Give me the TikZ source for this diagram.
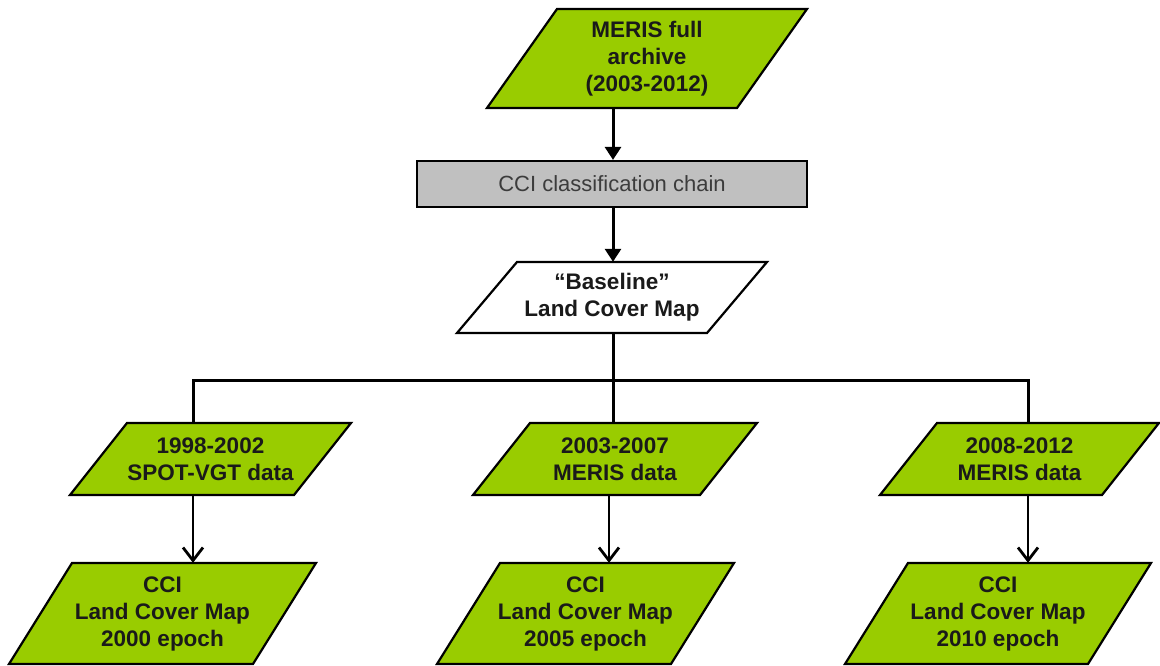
\documentclass[tikz,border=0pt]{standalone}
\usepackage{fontspec}
\setmainfont{Liberation Sans}
\usetikzlibrary{arrows.meta}

\definecolor{leaf}{HTML}{99CC00}
\definecolor{chainfill}{HTML}{C0C0C0}
\definecolor{ink}{HTML}{1A1A1A}

% parallelogram box: name, top-left x, top y, side length, height, slant, fill, text
\newcommand\pgram[8]{%
  \draw[boxline,fill=#7] (#2,#3) -- ({#2+#4},#3) -- ({#2+#4-#6},{#3+#5})
        -- ({#2-#6},{#3+#5}) -- cycle;
  \node[boxtext,minimum height=#5] (#1) at ({#2+#4/2-#6/2},{#3+#5/2}) {#8};
}

\begin{document}
\begin{tikzpicture}[x=1pt,y=-1pt,
  boxline/.style={draw=black,line width=2.2pt,line join=miter},
  boxtext/.style={inner sep=0pt,align=center,text=ink,
    font=\fontsize{22.5}{27}\selectfont\bfseries},
  chainbox/.style={draw=black,line width=2.2pt,fill=chainfill,
    minimum width=390pt,minimum height=46pt,inner sep=0pt,
    text=ink!85,font=\fontsize{22}{27}\selectfont},
  solidarrow/.style={line width=3pt,-{Triangle[width=16pt,length=13pt]}},
  openarrow/.style={line width=2.8pt,-{Straight Barb[width=20pt,length=13pt,line width=2.8pt]}},
  link/.style={line width=3pt}]

\useasboundingbox (0,0) rectangle (1160,666);

% columns used by the connectors
\coordinate (colA) at (193,0);
\coordinate (colM) at (613,0);
\coordinate (colB) at (609,0);
\coordinate (colC) at (1028,0);
\coordinate (split) at (0,380);

% input archive, processing chain and baseline map
\pgram{meris}{557}{9}{250}{99}{70}{leaf}{MERIS full\\archive\\(2003-2012)}
\node[chainbox] (chain) at (612,184) {CCI classification chain};
\pgram{base}{517}{262}{250}{71}{60}{white}{“Baseline”\\Land Cover Map}

% epoch input data
\pgram{spot}{127}{423}{224}{72}{57}{leaf}{1998-2002\\SPOT-VGT data}
\pgram{merisA}{530}{423}{227}{72}{57}{leaf}{2003-2007\\MERIS data}
\pgram{merisB}{937}{423}{222}{72}{57}{leaf}{2008-2012\\MERIS data}

% epoch land cover maps
\pgram{lc2000}{72}{563}{244}{101}{63}{leaf}{CCI\\Land Cover Map\\2000 epoch}
\pgram{lc2005}{500}{563}{234}{101}{63}{leaf}{CCI\\Land Cover Map\\2005 epoch}
\pgram{lc2010}{908}{563}{243}{101}{63}{leaf}{CCI\\Land Cover Map\\2010 epoch}

% main chain
\draw[solidarrow] (meris.south -| colM) -- (chain.north -| colM);
\draw[solidarrow] (chain.south -| colM) -- (base.north -| colM);

% distribution to the three epochs
\draw[link] (base.south -| colM) -- (merisA.north -| colM);
\draw[link,line cap=rect] (spot.north -| colA) -- (split -| colA) -- (split -| colC)
  -- (merisB.north -| colC);

% epoch maps
\draw[openarrow] (spot.south -| colA) -- (lc2000.north -| colA);
\draw[openarrow] (merisA.south -| colB) -- (lc2005.north -| colB);
\draw[openarrow] (merisB.south -| colC) -- (lc2010.north -| colC);

\end{tikzpicture}
\end{document}
